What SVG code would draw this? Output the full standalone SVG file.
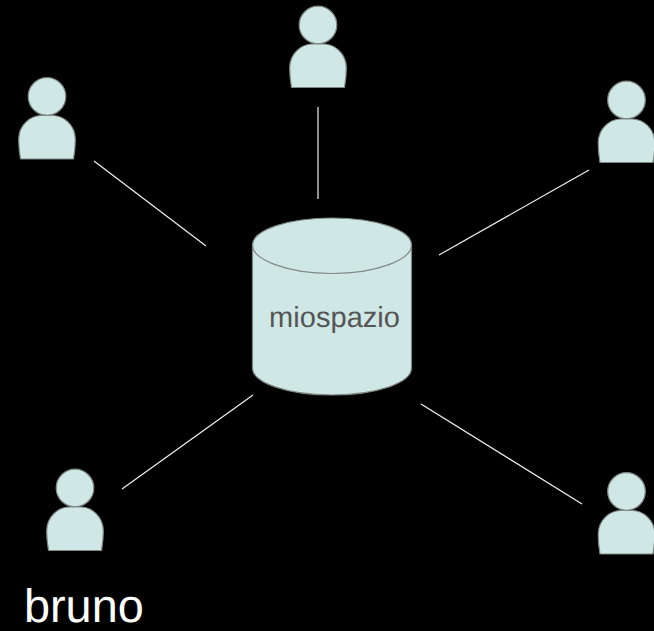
<svg xmlns="http://www.w3.org/2000/svg" width="654" height="631" viewBox="0 0 654 631">
<style>
.s{fill:#cfe8e5;stroke:#7f8785;stroke-width:1.200}
.c{stroke:#f2f2f2;stroke-width:1.200;fill:none}
.t{font-family:"Liberation Sans",Arial,sans-serif;text-rendering:geometricPrecision}
</style>
<defs>
<g id="person">
<circle class="s" cx="0" cy="25" r="18.800"/>
<path class="s" d="M-26.500 87.500C-27.800 80-28.300 75-28.300 68C-28.300 53-16 44-6 44H6C16 44 28.300 53 28.300 68C28.300 75 27.800 80 26.500 87.500Z"/>
</g>
</defs>
<rect width="654" height="631" fill="#000"/>
<g id="connectors">
<line class="c" x1="94" y1="161" x2="206" y2="246"/>
<line class="c" x1="318" y1="107" x2="318" y2="199"/>
<line class="c" x1="589" y1="170" x2="439" y2="255"/>
<line class="c" x1="253" y1="395" x2="122" y2="489"/>
<line class="c" x1="421" y1="404" x2="582" y2="504"/>
</g>
<g id="person-top"><use href="#person" x="318" y="0"/></g>
<g id="person-left"><use href="#person" x="47" y="71.500"/></g>
<g id="person-right"><use href="#person" x="626.500" y="75"/></g>
<g id="person-bruno"><use href="#person" x="75" y="463"/></g>
<g id="person-bottom-right"><use href="#person" x="626.500" y="466.500"/></g>
<g id="db">
<path class="s" d="M252.500 245C252.500 230 288 218 332 218C376 218 411.500 230 411.500 245V368C411.500 383 376 395 332 395C288 395 252.500 383 252.500 368Z"/>
<path class="s" style="fill:none" d="M252.500 245C252.500 260 288 273.500 332 273.500C376 273.500 411.500 260 411.500 245"/>
<text class="t" x="269" y="327" font-size="29" fill="#555" textLength="131">miospazio</text>
</g>
<text class="t" id="label-bruno" x="24" y="622" font-size="46.800" fill="#fff">bruno</text>
</svg>
